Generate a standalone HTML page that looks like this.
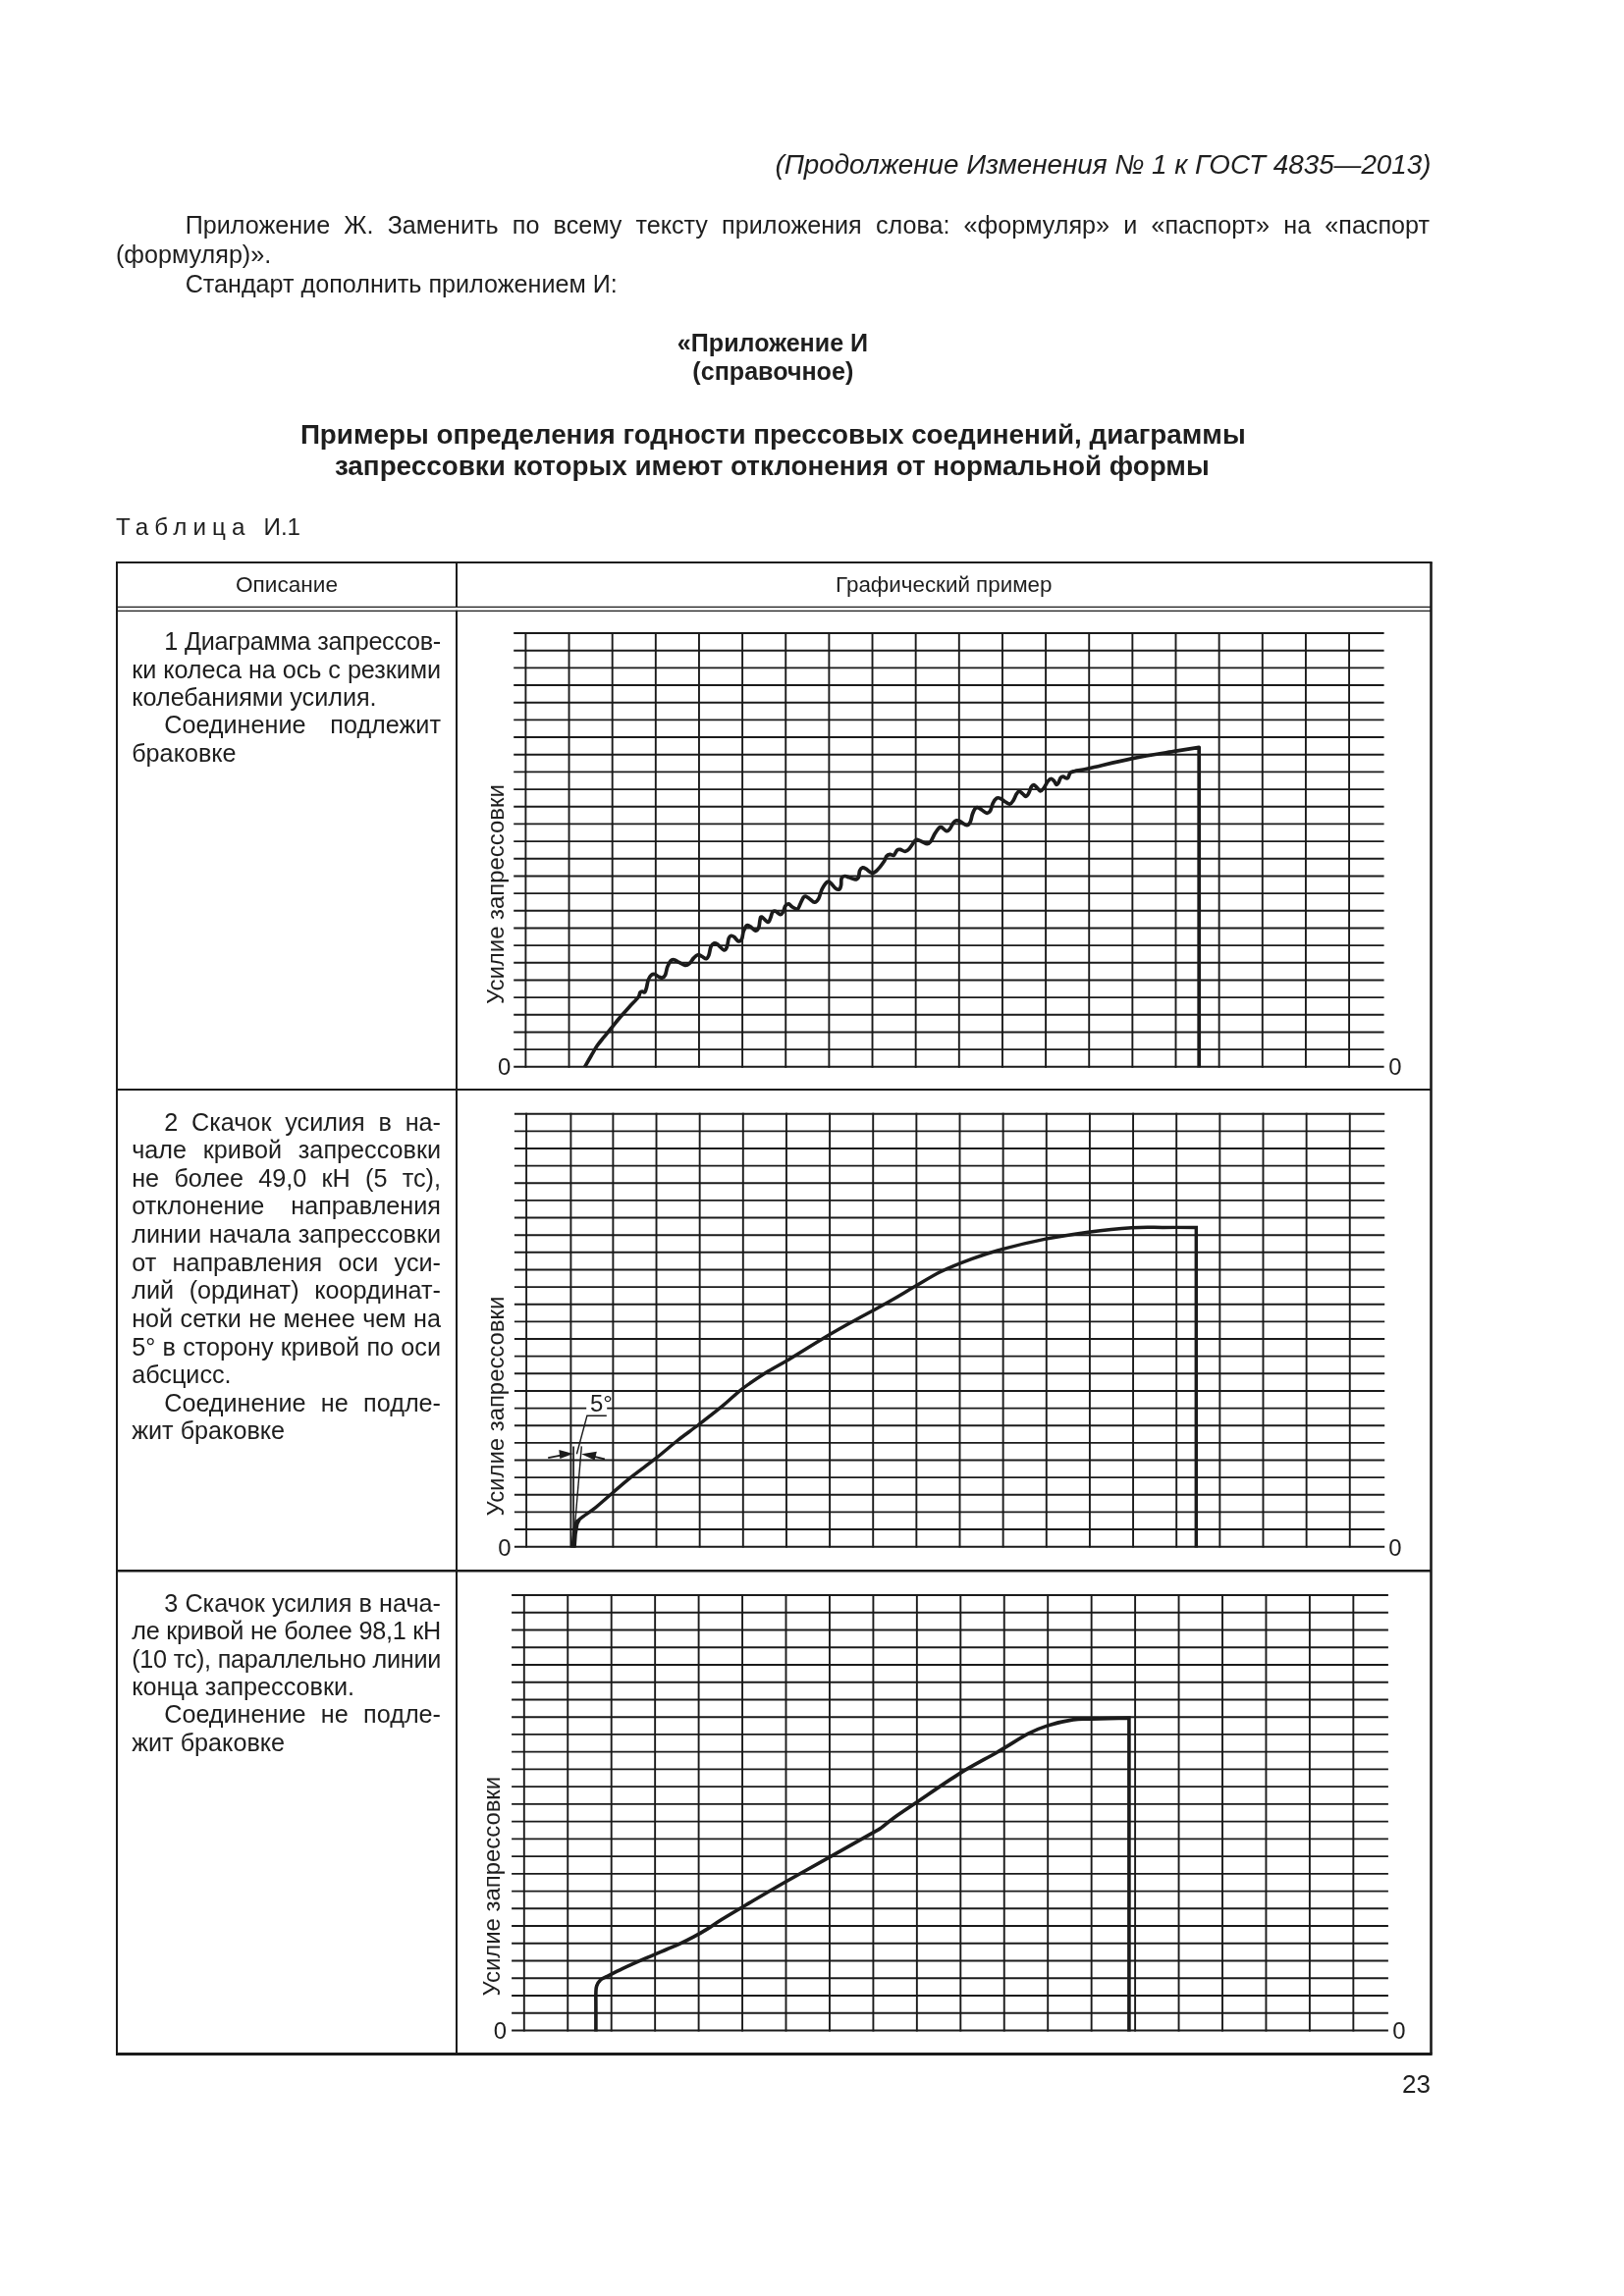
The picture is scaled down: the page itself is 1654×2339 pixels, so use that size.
<!DOCTYPE html>
<html lang="ru"><head><meta charset="utf-8"><title>ГОСТ 4835—2013 Изменение № 1</title>
<style>
html,body{margin:0;padding:0;background:#fff;}
body{width:1654px;height:2339px;position:relative;overflow:hidden;font-family:"Liberation Sans",Arial,sans-serif;color:#1e1e1e;}
.t{position:absolute;white-space:nowrap;}
#pg{position:absolute;left:0;top:0;width:1654px;height:2339px;will-change:transform;}
svg{position:absolute;left:0;top:0;}
.lab{font-family:"Liberation Sans",Arial,sans-serif;font-size:23.9px;fill:#1e1e1e;}
</style></head><body>
<div id="pg">
<svg width="1654" height="2339" viewBox="0 0 1654 2339">
<line x1="118.0" y1="573.0" x2="1458.7" y2="573.0" stroke="#1b1b1b" stroke-width="2.2"/>
<line x1="118.0" y1="2092.5" x2="1458.7" y2="2092.5" stroke="#1b1b1b" stroke-width="3"/>
<line x1="119.0" y1="573.0" x2="119.0" y2="2092.5" stroke="#1b1b1b" stroke-width="2.0"/>
<line x1="1457.5" y1="573.0" x2="1457.5" y2="2092.5" stroke="#1b1b1b" stroke-width="2.6"/>
<line x1="465.0" y1="573.0" x2="465.0" y2="619" stroke="#1b1b1b" stroke-width="2"/>
<line x1="465.0" y1="621.8" x2="465.0" y2="2092.5" stroke="#1b1b1b" stroke-width="2"/>
<line x1="119.0" y1="618.4" x2="1457.5" y2="618.4" stroke="#1b1b1b" stroke-width="1.3"/>
<line x1="119.0" y1="622.4" x2="1457.5" y2="622.4" stroke="#1b1b1b" stroke-width="1.3"/>
<line x1="119.0" y1="1110.1" x2="1457.5" y2="1110.1" stroke="#1b1b1b" stroke-width="2"/>
<line x1="119.0" y1="1600.3" x2="1457.5" y2="1600.3" stroke="#1b1b1b" stroke-width="2.4"/>
<line x1="523.20" y1="1086.80" x2="1409.60" y2="1086.80" stroke="#1b1b1b" stroke-width="1.9"/>
<line x1="523.20" y1="1069.13" x2="1409.60" y2="1069.13" stroke="#1b1b1b" stroke-width="1.9"/>
<line x1="523.20" y1="1051.46" x2="1409.60" y2="1051.46" stroke="#1b1b1b" stroke-width="1.9"/>
<line x1="523.20" y1="1033.79" x2="1409.60" y2="1033.79" stroke="#1b1b1b" stroke-width="1.9"/>
<line x1="523.20" y1="1016.12" x2="1409.60" y2="1016.12" stroke="#1b1b1b" stroke-width="1.9"/>
<line x1="523.20" y1="998.45" x2="1409.60" y2="998.45" stroke="#1b1b1b" stroke-width="1.9"/>
<line x1="523.20" y1="980.78" x2="1409.60" y2="980.78" stroke="#1b1b1b" stroke-width="1.9"/>
<line x1="523.20" y1="963.11" x2="1409.60" y2="963.11" stroke="#1b1b1b" stroke-width="1.9"/>
<line x1="523.20" y1="945.44" x2="1409.60" y2="945.44" stroke="#1b1b1b" stroke-width="1.9"/>
<line x1="523.20" y1="927.77" x2="1409.60" y2="927.77" stroke="#1b1b1b" stroke-width="1.9"/>
<line x1="523.20" y1="910.10" x2="1409.60" y2="910.10" stroke="#1b1b1b" stroke-width="1.9"/>
<line x1="523.20" y1="892.43" x2="1409.60" y2="892.43" stroke="#1b1b1b" stroke-width="1.9"/>
<line x1="523.20" y1="874.76" x2="1409.60" y2="874.76" stroke="#1b1b1b" stroke-width="1.9"/>
<line x1="523.20" y1="857.09" x2="1409.60" y2="857.09" stroke="#1b1b1b" stroke-width="1.9"/>
<line x1="523.20" y1="839.42" x2="1409.60" y2="839.42" stroke="#1b1b1b" stroke-width="1.9"/>
<line x1="523.20" y1="821.75" x2="1409.60" y2="821.75" stroke="#1b1b1b" stroke-width="1.9"/>
<line x1="523.20" y1="804.08" x2="1409.60" y2="804.08" stroke="#1b1b1b" stroke-width="1.9"/>
<line x1="523.20" y1="786.41" x2="1409.60" y2="786.41" stroke="#1b1b1b" stroke-width="1.9"/>
<line x1="523.20" y1="768.74" x2="1409.60" y2="768.74" stroke="#1b1b1b" stroke-width="1.9"/>
<line x1="523.20" y1="751.07" x2="1409.60" y2="751.07" stroke="#1b1b1b" stroke-width="1.9"/>
<line x1="523.20" y1="733.40" x2="1409.60" y2="733.40" stroke="#1b1b1b" stroke-width="1.9"/>
<line x1="523.20" y1="715.73" x2="1409.60" y2="715.73" stroke="#1b1b1b" stroke-width="1.9"/>
<line x1="523.20" y1="698.06" x2="1409.60" y2="698.06" stroke="#1b1b1b" stroke-width="1.9"/>
<line x1="523.20" y1="680.39" x2="1409.60" y2="680.39" stroke="#1b1b1b" stroke-width="1.9"/>
<line x1="523.20" y1="662.72" x2="1409.60" y2="662.72" stroke="#1b1b1b" stroke-width="1.9"/>
<line x1="523.20" y1="645.05" x2="1409.60" y2="645.05" stroke="#1b1b1b" stroke-width="1.9"/>
<line x1="535.40" y1="644.15" x2="535.40" y2="1087.70" stroke="#1b1b1b" stroke-width="1.9"/>
<line x1="579.54" y1="644.15" x2="579.54" y2="1087.70" stroke="#1b1b1b" stroke-width="1.9"/>
<line x1="623.68" y1="644.15" x2="623.68" y2="1087.70" stroke="#1b1b1b" stroke-width="1.9"/>
<line x1="667.82" y1="644.15" x2="667.82" y2="1087.70" stroke="#1b1b1b" stroke-width="1.9"/>
<line x1="711.96" y1="644.15" x2="711.96" y2="1087.70" stroke="#1b1b1b" stroke-width="1.9"/>
<line x1="756.10" y1="644.15" x2="756.10" y2="1087.70" stroke="#1b1b1b" stroke-width="1.9"/>
<line x1="800.24" y1="644.15" x2="800.24" y2="1087.70" stroke="#1b1b1b" stroke-width="1.9"/>
<line x1="844.38" y1="644.15" x2="844.38" y2="1087.70" stroke="#1b1b1b" stroke-width="1.9"/>
<line x1="888.52" y1="644.15" x2="888.52" y2="1087.70" stroke="#1b1b1b" stroke-width="1.9"/>
<line x1="932.66" y1="644.15" x2="932.66" y2="1087.70" stroke="#1b1b1b" stroke-width="1.9"/>
<line x1="976.80" y1="644.15" x2="976.80" y2="1087.70" stroke="#1b1b1b" stroke-width="1.9"/>
<line x1="1020.94" y1="644.15" x2="1020.94" y2="1087.70" stroke="#1b1b1b" stroke-width="1.9"/>
<line x1="1065.08" y1="644.15" x2="1065.08" y2="1087.70" stroke="#1b1b1b" stroke-width="1.9"/>
<line x1="1109.22" y1="644.15" x2="1109.22" y2="1087.70" stroke="#1b1b1b" stroke-width="1.9"/>
<line x1="1153.36" y1="644.15" x2="1153.36" y2="1087.70" stroke="#1b1b1b" stroke-width="1.9"/>
<line x1="1197.50" y1="644.15" x2="1197.50" y2="1087.70" stroke="#1b1b1b" stroke-width="1.9"/>
<line x1="1241.64" y1="644.15" x2="1241.64" y2="1087.70" stroke="#1b1b1b" stroke-width="1.9"/>
<line x1="1285.78" y1="644.15" x2="1285.78" y2="1087.70" stroke="#1b1b1b" stroke-width="1.9"/>
<line x1="1329.92" y1="644.15" x2="1329.92" y2="1087.70" stroke="#1b1b1b" stroke-width="1.9"/>
<line x1="1374.06" y1="644.15" x2="1374.06" y2="1087.70" stroke="#1b1b1b" stroke-width="1.9"/>
<text x="0" y="0" transform="translate(513.00,1023.00) rotate(-90)" class="lab">Усилие запрессовки</text>
<text x="507.00" y="1094.60" class="lab">0</text>
<text x="1414.20" y="1094.60" class="lab">0</text>
<line x1="523.90" y1="1575.70" x2="1410.20" y2="1575.70" stroke="#1b1b1b" stroke-width="1.9"/>
<line x1="523.90" y1="1558.06" x2="1410.20" y2="1558.06" stroke="#1b1b1b" stroke-width="1.9"/>
<line x1="523.90" y1="1540.42" x2="1410.20" y2="1540.42" stroke="#1b1b1b" stroke-width="1.9"/>
<line x1="523.90" y1="1522.78" x2="1410.20" y2="1522.78" stroke="#1b1b1b" stroke-width="1.9"/>
<line x1="523.90" y1="1505.14" x2="1410.20" y2="1505.14" stroke="#1b1b1b" stroke-width="1.9"/>
<line x1="523.90" y1="1487.50" x2="1410.20" y2="1487.50" stroke="#1b1b1b" stroke-width="1.9"/>
<line x1="523.90" y1="1469.86" x2="1410.20" y2="1469.86" stroke="#1b1b1b" stroke-width="1.9"/>
<line x1="523.90" y1="1452.22" x2="1410.20" y2="1452.22" stroke="#1b1b1b" stroke-width="1.9"/>
<line x1="523.90" y1="1434.58" x2="1410.20" y2="1434.58" stroke="#1b1b1b" stroke-width="1.9"/>
<line x1="523.90" y1="1416.94" x2="1410.20" y2="1416.94" stroke="#1b1b1b" stroke-width="1.9"/>
<line x1="523.90" y1="1399.30" x2="1410.20" y2="1399.30" stroke="#1b1b1b" stroke-width="1.9"/>
<line x1="523.90" y1="1381.66" x2="1410.20" y2="1381.66" stroke="#1b1b1b" stroke-width="1.9"/>
<line x1="523.90" y1="1364.02" x2="1410.20" y2="1364.02" stroke="#1b1b1b" stroke-width="1.9"/>
<line x1="523.90" y1="1346.38" x2="1410.20" y2="1346.38" stroke="#1b1b1b" stroke-width="1.9"/>
<line x1="523.90" y1="1328.74" x2="1410.20" y2="1328.74" stroke="#1b1b1b" stroke-width="1.9"/>
<line x1="523.90" y1="1311.10" x2="1410.20" y2="1311.10" stroke="#1b1b1b" stroke-width="1.9"/>
<line x1="523.90" y1="1293.46" x2="1410.20" y2="1293.46" stroke="#1b1b1b" stroke-width="1.9"/>
<line x1="523.90" y1="1275.82" x2="1410.20" y2="1275.82" stroke="#1b1b1b" stroke-width="1.9"/>
<line x1="523.90" y1="1258.18" x2="1410.20" y2="1258.18" stroke="#1b1b1b" stroke-width="1.9"/>
<line x1="523.90" y1="1240.54" x2="1410.20" y2="1240.54" stroke="#1b1b1b" stroke-width="1.9"/>
<line x1="523.90" y1="1222.90" x2="1410.20" y2="1222.90" stroke="#1b1b1b" stroke-width="1.9"/>
<line x1="523.90" y1="1205.26" x2="1410.20" y2="1205.26" stroke="#1b1b1b" stroke-width="1.9"/>
<line x1="523.90" y1="1187.62" x2="1410.20" y2="1187.62" stroke="#1b1b1b" stroke-width="1.9"/>
<line x1="523.90" y1="1169.98" x2="1410.20" y2="1169.98" stroke="#1b1b1b" stroke-width="1.9"/>
<line x1="523.90" y1="1152.34" x2="1410.20" y2="1152.34" stroke="#1b1b1b" stroke-width="1.9"/>
<line x1="523.90" y1="1134.70" x2="1410.20" y2="1134.70" stroke="#1b1b1b" stroke-width="1.9"/>
<line x1="536.10" y1="1133.80" x2="536.10" y2="1576.60" stroke="#1b1b1b" stroke-width="1.9"/>
<line x1="581.40" y1="1133.80" x2="581.40" y2="1576.60" stroke="#1b1b1b" stroke-width="1.9"/>
<line x1="624.38" y1="1133.80" x2="624.38" y2="1576.60" stroke="#1b1b1b" stroke-width="1.9"/>
<line x1="668.52" y1="1133.80" x2="668.52" y2="1576.60" stroke="#1b1b1b" stroke-width="1.9"/>
<line x1="712.66" y1="1133.80" x2="712.66" y2="1576.60" stroke="#1b1b1b" stroke-width="1.9"/>
<line x1="756.80" y1="1133.80" x2="756.80" y2="1576.60" stroke="#1b1b1b" stroke-width="1.9"/>
<line x1="800.94" y1="1133.80" x2="800.94" y2="1576.60" stroke="#1b1b1b" stroke-width="1.9"/>
<line x1="845.08" y1="1133.80" x2="845.08" y2="1576.60" stroke="#1b1b1b" stroke-width="1.9"/>
<line x1="889.22" y1="1133.80" x2="889.22" y2="1576.60" stroke="#1b1b1b" stroke-width="1.9"/>
<line x1="933.36" y1="1133.80" x2="933.36" y2="1576.60" stroke="#1b1b1b" stroke-width="1.9"/>
<line x1="977.50" y1="1133.80" x2="977.50" y2="1576.60" stroke="#1b1b1b" stroke-width="1.9"/>
<line x1="1021.64" y1="1133.80" x2="1021.64" y2="1576.60" stroke="#1b1b1b" stroke-width="1.9"/>
<line x1="1065.78" y1="1133.80" x2="1065.78" y2="1576.60" stroke="#1b1b1b" stroke-width="1.9"/>
<line x1="1109.92" y1="1133.80" x2="1109.92" y2="1576.60" stroke="#1b1b1b" stroke-width="1.9"/>
<line x1="1154.06" y1="1133.80" x2="1154.06" y2="1576.60" stroke="#1b1b1b" stroke-width="1.9"/>
<line x1="1198.20" y1="1133.80" x2="1198.20" y2="1576.60" stroke="#1b1b1b" stroke-width="1.9"/>
<line x1="1242.34" y1="1133.80" x2="1242.34" y2="1576.60" stroke="#1b1b1b" stroke-width="1.9"/>
<line x1="1286.48" y1="1133.80" x2="1286.48" y2="1576.60" stroke="#1b1b1b" stroke-width="1.9"/>
<line x1="1330.62" y1="1133.80" x2="1330.62" y2="1576.60" stroke="#1b1b1b" stroke-width="1.9"/>
<line x1="1374.76" y1="1133.80" x2="1374.76" y2="1576.60" stroke="#1b1b1b" stroke-width="1.9"/>
<text x="0" y="0" transform="translate(513.00,1544.40) rotate(-90)" class="lab">Усилие запрессовки</text>
<text x="507.20" y="1584.80" class="lab">0</text>
<text x="1414.20" y="1584.80" class="lab">0</text>
<line x1="521.10" y1="2068.50" x2="1413.90" y2="2068.50" stroke="#1b1b1b" stroke-width="1.9"/>
<line x1="521.10" y1="2050.76" x2="1413.90" y2="2050.76" stroke="#1b1b1b" stroke-width="1.9"/>
<line x1="521.10" y1="2033.02" x2="1413.90" y2="2033.02" stroke="#1b1b1b" stroke-width="1.9"/>
<line x1="521.10" y1="2015.28" x2="1413.90" y2="2015.28" stroke="#1b1b1b" stroke-width="1.9"/>
<line x1="521.10" y1="1997.54" x2="1413.90" y2="1997.54" stroke="#1b1b1b" stroke-width="1.9"/>
<line x1="521.10" y1="1979.80" x2="1413.90" y2="1979.80" stroke="#1b1b1b" stroke-width="1.9"/>
<line x1="521.10" y1="1962.06" x2="1413.90" y2="1962.06" stroke="#1b1b1b" stroke-width="1.9"/>
<line x1="521.10" y1="1944.32" x2="1413.90" y2="1944.32" stroke="#1b1b1b" stroke-width="1.9"/>
<line x1="521.10" y1="1926.58" x2="1413.90" y2="1926.58" stroke="#1b1b1b" stroke-width="1.9"/>
<line x1="521.10" y1="1908.84" x2="1413.90" y2="1908.84" stroke="#1b1b1b" stroke-width="1.9"/>
<line x1="521.10" y1="1891.10" x2="1413.90" y2="1891.10" stroke="#1b1b1b" stroke-width="1.9"/>
<line x1="521.10" y1="1873.36" x2="1413.90" y2="1873.36" stroke="#1b1b1b" stroke-width="1.9"/>
<line x1="521.10" y1="1855.62" x2="1413.90" y2="1855.62" stroke="#1b1b1b" stroke-width="1.9"/>
<line x1="521.10" y1="1837.88" x2="1413.90" y2="1837.88" stroke="#1b1b1b" stroke-width="1.9"/>
<line x1="521.10" y1="1820.14" x2="1413.90" y2="1820.14" stroke="#1b1b1b" stroke-width="1.9"/>
<line x1="521.10" y1="1802.40" x2="1413.90" y2="1802.40" stroke="#1b1b1b" stroke-width="1.9"/>
<line x1="521.10" y1="1784.66" x2="1413.90" y2="1784.66" stroke="#1b1b1b" stroke-width="1.9"/>
<line x1="521.10" y1="1766.92" x2="1413.90" y2="1766.92" stroke="#1b1b1b" stroke-width="1.9"/>
<line x1="521.10" y1="1749.18" x2="1413.90" y2="1749.18" stroke="#1b1b1b" stroke-width="1.9"/>
<line x1="521.10" y1="1731.44" x2="1413.90" y2="1731.44" stroke="#1b1b1b" stroke-width="1.9"/>
<line x1="521.10" y1="1713.70" x2="1413.90" y2="1713.70" stroke="#1b1b1b" stroke-width="1.9"/>
<line x1="521.10" y1="1695.96" x2="1413.90" y2="1695.96" stroke="#1b1b1b" stroke-width="1.9"/>
<line x1="521.10" y1="1678.22" x2="1413.90" y2="1678.22" stroke="#1b1b1b" stroke-width="1.9"/>
<line x1="521.10" y1="1660.48" x2="1413.90" y2="1660.48" stroke="#1b1b1b" stroke-width="1.9"/>
<line x1="521.10" y1="1642.74" x2="1413.90" y2="1642.74" stroke="#1b1b1b" stroke-width="1.9"/>
<line x1="521.10" y1="1625.00" x2="1413.90" y2="1625.00" stroke="#1b1b1b" stroke-width="1.9"/>
<line x1="533.80" y1="1624.10" x2="533.80" y2="2069.40" stroke="#1b1b1b" stroke-width="1.9"/>
<line x1="578.25" y1="1624.10" x2="578.25" y2="2069.40" stroke="#1b1b1b" stroke-width="1.9"/>
<line x1="622.70" y1="1624.10" x2="622.70" y2="2069.40" stroke="#1b1b1b" stroke-width="1.9"/>
<line x1="667.15" y1="1624.10" x2="667.15" y2="2069.40" stroke="#1b1b1b" stroke-width="1.9"/>
<line x1="711.60" y1="1624.10" x2="711.60" y2="2069.40" stroke="#1b1b1b" stroke-width="1.9"/>
<line x1="756.05" y1="1624.10" x2="756.05" y2="2069.40" stroke="#1b1b1b" stroke-width="1.9"/>
<line x1="800.50" y1="1624.10" x2="800.50" y2="2069.40" stroke="#1b1b1b" stroke-width="1.9"/>
<line x1="844.95" y1="1624.10" x2="844.95" y2="2069.40" stroke="#1b1b1b" stroke-width="1.9"/>
<line x1="889.40" y1="1624.10" x2="889.40" y2="2069.40" stroke="#1b1b1b" stroke-width="1.9"/>
<line x1="933.85" y1="1624.10" x2="933.85" y2="2069.40" stroke="#1b1b1b" stroke-width="1.9"/>
<line x1="978.30" y1="1624.10" x2="978.30" y2="2069.40" stroke="#1b1b1b" stroke-width="1.9"/>
<line x1="1022.75" y1="1624.10" x2="1022.75" y2="2069.40" stroke="#1b1b1b" stroke-width="1.9"/>
<line x1="1067.20" y1="1624.10" x2="1067.20" y2="2069.40" stroke="#1b1b1b" stroke-width="1.9"/>
<line x1="1111.65" y1="1624.10" x2="1111.65" y2="2069.40" stroke="#1b1b1b" stroke-width="1.9"/>
<line x1="1156.10" y1="1624.10" x2="1156.10" y2="2069.40" stroke="#1b1b1b" stroke-width="1.9"/>
<line x1="1200.55" y1="1624.10" x2="1200.55" y2="2069.40" stroke="#1b1b1b" stroke-width="1.9"/>
<line x1="1245.00" y1="1624.10" x2="1245.00" y2="2069.40" stroke="#1b1b1b" stroke-width="1.9"/>
<line x1="1289.45" y1="1624.10" x2="1289.45" y2="2069.40" stroke="#1b1b1b" stroke-width="1.9"/>
<line x1="1333.90" y1="1624.10" x2="1333.90" y2="2069.40" stroke="#1b1b1b" stroke-width="1.9"/>
<line x1="1378.35" y1="1624.10" x2="1378.35" y2="2069.40" stroke="#1b1b1b" stroke-width="1.9"/>
<text x="0" y="0" transform="translate(509.20,2033.60) rotate(-90)" class="lab">Усилие запрессовки</text>
<text x="502.80" y="2076.60" class="lab">0</text>
<text x="1418.20" y="2076.60" class="lab">0</text>
<path d="M595.60,1086.80 C596.67,1084.95 599.90,1079.28 602.00,1075.70 C604.10,1072.12 606.03,1068.47 608.20,1065.30 C610.37,1062.13 612.65,1059.63 615.00,1056.70 C617.35,1053.77 619.53,1051.10 622.30,1047.70 C625.07,1044.30 628.52,1039.93 631.60,1036.30 C634.68,1032.67 637.73,1029.28 640.80,1025.90 C643.87,1022.52 648.15,1018.47 650.00,1016.00 C651.85,1013.53 651.17,1012.07 651.90,1011.10 C652.63,1010.13 653.58,1010.25 654.40,1010.20 C655.22,1010.15 656.12,1011.52 656.80,1010.80 C657.48,1010.08 657.92,1008.02 658.50,1005.90 C659.08,1003.78 659.50,1000.18 660.30,998.10 C661.10,996.02 662.23,994.33 663.30,993.40 C664.37,992.47 665.42,992.22 666.70,992.50 C667.98,992.78 669.70,994.52 671.00,995.10 C672.30,995.68 673.42,996.28 674.50,996.00 C675.58,995.72 676.63,995.20 677.50,993.40 C678.37,991.60 678.77,987.65 679.70,985.20 C680.63,982.75 681.95,979.93 683.10,978.70 C684.25,977.47 685.17,977.52 686.60,977.80 C688.03,978.08 689.83,979.47 691.70,980.40 C693.57,981.33 696.07,983.18 697.80,983.40 C699.53,983.62 700.67,982.92 702.10,981.70 C703.53,980.48 704.97,977.60 706.40,976.10 C707.83,974.60 709.27,972.98 710.70,972.70 C712.13,972.42 713.57,973.75 715.00,974.40 C716.43,975.05 718.15,976.82 719.30,976.60 C720.45,976.38 721.12,975.12 721.90,973.10 C722.68,971.08 723.13,966.52 724.00,964.50 C724.87,962.48 726.02,961.43 727.10,961.00 C728.18,960.57 728.78,960.75 730.50,961.90 C732.22,963.05 735.75,967.47 737.40,967.90 C739.05,968.33 739.60,966.50 740.40,964.50 C741.20,962.50 741.48,957.77 742.20,955.90 C742.92,954.03 743.77,953.52 744.70,953.30 C745.63,953.08 746.57,953.67 747.80,954.60 C749.03,955.53 750.82,958.55 752.10,958.90 C753.38,959.25 754.65,958.35 755.50,956.70 C756.35,955.05 756.40,951.30 757.20,949.00 C758.00,946.70 759.15,943.77 760.30,942.90 C761.45,942.03 762.60,942.93 764.10,943.80 C765.60,944.67 767.85,947.95 769.30,948.10 C770.75,948.25 772.00,946.57 772.80,944.70 C773.60,942.83 773.60,938.67 774.10,936.90 C774.60,935.13 774.47,933.67 775.80,934.10 C777.13,934.53 780.62,939.32 782.10,939.50 C783.58,939.68 783.92,936.93 784.70,935.20 C785.48,933.47 785.95,930.25 786.80,929.10 C787.65,927.95 788.50,927.87 789.80,928.30 C791.10,928.73 793.30,931.57 794.60,931.70 C795.90,931.83 796.75,930.53 797.60,929.10 C798.45,927.67 798.77,924.47 799.70,923.10 C800.63,921.73 801.97,920.75 803.20,920.90 C804.43,921.05 805.60,923.13 807.10,924.00 C808.60,924.87 810.92,926.53 812.20,926.10 C813.48,925.67 813.78,923.40 814.80,921.40 C815.82,919.40 817.28,915.47 818.30,914.10 C819.32,912.73 819.75,912.85 820.90,913.20 C822.05,913.55 823.77,915.20 825.20,916.20 C826.63,917.20 828.07,919.35 829.50,919.20 C830.93,919.05 832.52,917.52 833.80,915.30 C835.08,913.08 835.77,908.70 837.20,905.90 C838.63,903.10 840.95,899.58 842.40,898.50 C843.85,897.42 844.47,898.32 845.90,899.40 C847.33,900.48 849.50,903.92 851.00,905.00 C852.50,906.08 853.97,906.47 854.90,905.90 C855.83,905.33 856.23,903.47 856.60,901.60 C856.97,899.73 856.45,896.22 857.10,894.70 C857.75,893.18 859.22,892.65 860.50,892.50 C861.78,892.35 863.07,893.23 864.80,893.80 C866.53,894.37 869.32,895.90 870.90,895.90 C872.48,895.90 873.52,895.30 874.30,893.80 C875.08,892.30 874.88,888.55 875.60,886.90 C876.32,885.25 877.52,884.18 878.60,883.90 C879.68,883.62 880.52,884.27 882.10,885.20 C883.68,886.13 886.23,889.28 888.10,889.50 C889.97,889.72 891.27,888.45 893.30,886.50 C895.33,884.55 898.70,880.18 900.30,877.80 C901.90,875.42 901.88,873.43 902.90,872.20 C903.92,870.97 905.17,870.55 906.40,870.40 C907.63,870.25 909.08,872.02 910.30,871.30 C911.52,870.58 912.63,867.10 913.70,866.10 C914.77,865.10 915.33,865.08 916.70,865.30 C918.07,865.52 920.32,867.55 921.90,867.40 C923.48,867.25 924.62,866.12 926.20,864.40 C927.78,862.68 930.10,858.62 931.40,857.10 C932.70,855.58 932.72,855.23 934.00,855.30 C935.28,855.37 937.38,856.77 939.10,857.50 C940.82,858.23 942.85,859.70 944.30,859.70 C945.75,859.70 946.50,859.23 947.80,857.50 C949.10,855.77 950.67,851.67 952.10,849.30 C953.53,846.93 955.25,844.38 956.40,843.30 C957.55,842.22 957.72,842.23 959.00,842.80 C960.28,843.37 962.67,846.48 964.10,846.70 C965.53,846.92 966.45,845.53 967.60,844.10 C968.75,842.67 969.92,839.47 971.00,838.10 C972.08,836.73 972.95,836.12 974.10,835.90 C975.25,835.68 976.12,836.00 977.90,836.80 C979.68,837.60 983.07,840.63 984.80,840.70 C986.53,840.77 987.37,839.07 988.30,837.20 C989.23,835.33 989.55,831.80 990.40,829.50 C991.25,827.20 992.32,824.48 993.40,823.40 C994.48,822.32 995.02,822.20 996.90,823.00 C998.78,823.80 1002.75,827.70 1004.70,828.20 C1006.65,828.70 1007.52,827.65 1008.60,826.00 C1009.68,824.35 1010.12,820.45 1011.20,818.30 C1012.28,816.15 1013.80,813.90 1015.10,813.10 C1016.40,812.30 1017.50,812.85 1019.00,813.50 C1020.50,814.15 1022.53,816.07 1024.10,817.00 C1025.67,817.93 1027.10,819.32 1028.40,819.10 C1029.70,818.88 1030.75,817.42 1031.90,815.70 C1033.05,813.98 1034.30,810.38 1035.30,808.80 C1036.30,807.22 1036.88,806.27 1037.90,806.20 C1038.92,806.13 1040.25,807.53 1041.40,808.40 C1042.55,809.27 1043.73,811.48 1044.80,811.40 C1045.87,811.32 1046.87,809.55 1047.80,807.90 C1048.73,806.25 1049.53,802.87 1050.40,801.50 C1051.27,800.13 1052.07,799.57 1053.00,799.70 C1053.93,799.83 1054.92,801.28 1056.00,802.30 C1057.08,803.32 1058.35,805.65 1059.50,805.80 C1060.65,805.95 1061.62,804.85 1062.90,803.20 C1064.18,801.55 1065.90,797.55 1067.20,795.90 C1068.50,794.25 1069.62,793.30 1070.70,793.30 C1071.78,793.30 1072.83,794.90 1073.70,795.90 C1074.57,796.90 1075.18,799.02 1075.90,799.30 C1076.62,799.58 1077.28,798.75 1078.00,797.60 C1078.72,796.45 1079.40,793.48 1080.20,792.40 C1081.00,791.32 1081.87,791.03 1082.80,791.10 C1083.73,791.17 1084.95,792.65 1085.80,792.80 C1086.65,792.95 1087.18,792.93 1087.90,792.00 C1088.62,791.07 1088.95,788.28 1090.10,787.20 C1091.25,786.12 1091.63,786.23 1094.80,785.50 C1097.97,784.77 1099.32,784.95 1109.10,782.80 C1118.88,780.65 1138.77,775.55 1153.50,772.60 C1168.23,769.65 1186.22,766.98 1197.50,765.10 C1208.78,763.22 1217.25,761.93 1221.20,761.30 L1221.2,1087.6" fill="none" stroke="#1b1b1b" stroke-width="3.7" stroke-linejoin="round"/>
<path d="M584.30,1576.50 C584.33,1574.08 584.22,1565.75 584.50,1562.00 C584.78,1558.25 585.25,1556.17 586.00,1554.00 C586.75,1551.83 587.67,1550.53 589.00,1549.00 C590.33,1547.47 591.03,1547.03 594.00,1544.80 C596.97,1542.57 601.70,1539.70 606.80,1535.60 C611.90,1531.50 618.52,1525.40 624.60,1520.20 C630.68,1515.00 636.08,1510.15 643.30,1504.40 C650.52,1498.65 660.12,1491.85 667.90,1485.70 C675.68,1479.55 682.75,1473.20 690.00,1467.50 C697.25,1461.80 703.83,1457.30 711.40,1451.50 C718.97,1445.70 728.02,1438.77 735.40,1432.70 C742.78,1426.63 748.30,1420.80 755.70,1415.10 C763.10,1409.40 771.78,1403.57 779.80,1398.50 C787.82,1393.43 793.77,1390.70 803.80,1384.70 C813.83,1378.70 829.37,1368.83 840.00,1362.50 C850.63,1356.17 859.38,1351.30 867.60,1346.70 C875.82,1342.10 882.40,1338.68 889.30,1334.90 C896.20,1331.12 901.70,1328.18 909.00,1324.00 C916.30,1319.82 924.90,1314.55 933.10,1309.80 C941.30,1305.05 948.72,1300.07 958.20,1295.50 C967.68,1290.93 979.77,1286.17 990.00,1282.40 C1000.23,1278.63 1007.28,1276.23 1019.60,1272.90 C1031.92,1269.57 1049.13,1265.35 1063.90,1262.40 C1078.67,1259.45 1093.42,1257.15 1108.20,1255.20 C1122.98,1253.25 1139.80,1251.50 1152.60,1250.70 C1165.40,1249.90 1174.05,1250.45 1185.00,1250.40 C1195.95,1250.35 1212.75,1250.40 1218.30,1250.40 L1218.3,1576.5" fill="none" stroke="#1b1b1b" stroke-width="3.45" stroke-linejoin="miter"/>
<path d="M606.90,2069.40 C606.90,2065.33 606.90,2051.57 606.90,2045.00 C606.90,2038.43 606.77,2033.65 606.90,2030.00 C607.03,2026.35 606.92,2025.27 607.70,2023.10 C608.48,2020.93 609.93,2018.57 611.60,2017.00 C613.27,2015.43 613.92,2015.63 617.70,2013.70 C621.48,2011.77 627.83,2008.45 634.30,2005.40 C640.77,2002.35 649.10,1998.63 656.50,1995.40 C663.90,1992.17 672.78,1988.50 678.70,1986.00 C684.62,1983.50 687.38,1982.53 692.00,1980.40 C696.62,1978.27 701.60,1975.78 706.40,1973.20 C711.20,1970.62 716.18,1967.77 720.80,1964.90 C725.42,1962.03 728.18,1959.70 734.10,1956.00 C740.02,1952.30 745.35,1949.15 756.30,1942.70 C767.25,1936.25 784.87,1925.85 799.80,1917.30 C814.73,1908.75 831.13,1899.72 845.90,1891.40 C860.67,1883.08 879.77,1872.32 888.40,1867.40 C897.03,1862.48 894.00,1864.52 897.70,1861.90 C901.40,1859.28 904.60,1856.02 910.60,1851.70 C916.60,1847.38 922.55,1843.52 933.70,1836.00 C944.85,1828.48 963.75,1815.15 977.50,1806.60 C991.25,1798.05 1004.58,1791.43 1016.20,1784.70 C1027.82,1777.97 1038.83,1770.63 1047.20,1766.20 C1055.57,1761.77 1058.77,1760.48 1066.40,1758.10 C1074.03,1755.72 1085.48,1753.07 1093.00,1751.90 C1100.52,1750.73 1102.02,1751.38 1111.50,1751.10 C1120.98,1750.82 1143.50,1750.35 1149.90,1750.20 L1149.9,2069.4" fill="none" stroke="#1b1b1b" stroke-width="3.6" stroke-linejoin="miter"/>
<line x1="584.1" y1="1473.4" x2="584.1" y2="1560" stroke="#1b1b1b" stroke-width="1.7"/>
<polygon points="581.3,1576.5 586.8,1576.5 587.8,1563 589.5,1553 591.5,1549 586.5,1548 584.5,1556 582.8,1565" fill="#1b1b1b"/>
<line x1="592.3" y1="1473.4" x2="585.6" y2="1553" stroke="#1b1b1b" stroke-width="1.4"/>
<polyline points="587.4,1481.2 597.9,1442.2 617.8,1442.2" fill="none" stroke="#1b1b1b" stroke-width="1.4"/>
<line x1="558.2" y1="1485.2" x2="575" y2="1481.8" stroke="#1b1b1b" stroke-width="1.7"/>
<polygon points="583.8,1481.0 569.3,1476.9 570.3,1485.9" fill="#1b1b1b"/>
<line x1="615.9" y1="1486.4" x2="600" y2="1482.6" stroke="#1b1b1b" stroke-width="1.7"/>
<polygon points="592.2,1481.2 607.8,1478.7 605.6,1487.4" fill="#1b1b1b"/>
<rect x="597.2" y="1433" width="21" height="4" fill="#fff"/>
<text x="601.0" y="1438.0" class="lab">5°</text>
</svg>
<div class="t" style="left:400.00px;top:150.69px;font-size:27.8px;line-height:33.36px;width:1057.50px;text-align:right;font-style:italic;">(Продолжение Изменения № 1 к ГОСТ 4835—2013)</div>
<div class="t" style="left:188.70px;top:214.00px;font-size:25.15px;line-height:30.18px;width:1267.30px;text-align:justify;text-align-last:justify;">Приложение Ж. Заменить по всему тексту приложения слова: «формуляр» и «паспорт» на «паспорт</div>
<div class="t" style="left:118.00px;top:243.90px;font-size:25.15px;line-height:30.18px;">(формуляр)».</div>
<div class="t" style="left:188.70px;top:274.00px;font-size:25.15px;line-height:30.18px;">Стандарт дополнить приложением И:</div>
<div class="t" style="left:187.00px;top:334.04px;font-size:25.1px;line-height:30.12px;width:1200.00px;text-align:center;font-weight:bold;">«Приложение И</div>
<div class="t" style="left:187.30px;top:363.14px;font-size:25.1px;line-height:30.12px;width:1200.00px;text-align:center;font-weight:bold;">(справочное)</div>
<div class="t" style="left:187.30px;top:425.57px;font-size:27.82px;line-height:33.38px;width:1200.00px;text-align:center;font-weight:bold;">Примеры определения годности прессовых соединений, диаграммы</div>
<div class="t" style="left:186.30px;top:458.47px;font-size:27.82px;line-height:33.38px;width:1200.00px;text-align:center;font-weight:bold;">запрессовки которых имеют отклонения от нормальной формы</div>
<div class="t" style="left:118.00px;top:521.59px;font-size:24.2px;line-height:29.04px;letter-spacing:6.1px;">Таблица</div>
<div class="t" style="left:268.50px;top:521.59px;font-size:24.2px;line-height:29.04px;">И.1</div>
<div class="t" style="left:-308.00px;top:582.41px;font-size:22.6px;line-height:27.12px;width:1200.00px;text-align:center;">Описание</div>
<div class="t" style="left:361.30px;top:582.60px;font-size:22.4px;line-height:26.88px;width:1200.00px;text-align:center;">Графический пример</div>
<div class="t" style="left:167.20px;top:638.35px;font-size:25.2px;line-height:30.24px;width:281.80px;text-align:justify;text-align-last:justify;letter-spacing:-0.280px;">1 Диаграмма запрессов-</div>
<div class="t" style="left:134.20px;top:666.65px;font-size:25.2px;line-height:30.24px;width:314.80px;text-align:justify;text-align-last:justify;letter-spacing:-0.061px;">ки колеса на ось с резкими</div>
<div class="t" style="left:134.20px;top:694.95px;font-size:25.2px;line-height:30.24px;width:314.80px;">колебаниями усилия.</div>
<div class="t" style="left:167.20px;top:723.25px;font-size:25.2px;line-height:30.24px;width:281.80px;text-align:justify;text-align-last:justify;">Соединение подлежит</div>
<div class="t" style="left:134.20px;top:751.55px;font-size:25.2px;line-height:30.24px;width:314.80px;">браковке</div>
<div class="t" style="left:167.20px;top:1127.55px;font-size:25.2px;line-height:30.24px;width:281.80px;text-align:justify;text-align-last:justify;">2 Скачок усилия в на-</div>
<div class="t" style="left:134.20px;top:1156.18px;font-size:25.2px;line-height:30.24px;width:314.80px;text-align:justify;text-align-last:justify;">чале кривой запрессовки</div>
<div class="t" style="left:134.20px;top:1184.81px;font-size:25.2px;line-height:30.24px;width:314.80px;text-align:justify;text-align-last:justify;">не более 49,0 кН (5 тс),</div>
<div class="t" style="left:134.20px;top:1213.44px;font-size:25.2px;line-height:30.24px;width:314.80px;text-align:justify;text-align-last:justify;">отклонение направления</div>
<div class="t" style="left:134.20px;top:1242.07px;font-size:25.2px;line-height:30.24px;width:314.80px;text-align:justify;text-align-last:justify;">линии начала запрессовки</div>
<div class="t" style="left:134.20px;top:1270.70px;font-size:25.2px;line-height:30.24px;width:314.80px;text-align:justify;text-align-last:justify;">от направления оси уси-</div>
<div class="t" style="left:134.20px;top:1299.33px;font-size:25.2px;line-height:30.24px;width:314.80px;text-align:justify;text-align-last:justify;">лий (ординат) координат-</div>
<div class="t" style="left:134.20px;top:1327.96px;font-size:25.2px;line-height:30.24px;width:314.80px;text-align:justify;text-align-last:justify;">ной сетки не менее чем на</div>
<div class="t" style="left:134.20px;top:1356.59px;font-size:25.2px;line-height:30.24px;width:314.80px;text-align:justify;text-align-last:justify;">5° в сторону кривой по оси</div>
<div class="t" style="left:134.20px;top:1385.22px;font-size:25.2px;line-height:30.24px;width:314.80px;">абсцисс.</div>
<div class="t" style="left:167.20px;top:1413.85px;font-size:25.2px;line-height:30.24px;width:281.80px;text-align:justify;text-align-last:justify;">Соединение не подле-</div>
<div class="t" style="left:134.20px;top:1442.48px;font-size:25.2px;line-height:30.24px;width:314.80px;">жит браковке</div>
<div class="t" style="left:167.20px;top:1617.55px;font-size:25.2px;line-height:30.24px;width:281.80px;text-align:justify;text-align-last:justify;">3 Скачок усилия в нача-</div>
<div class="t" style="left:134.20px;top:1646.03px;font-size:25.2px;line-height:30.24px;width:314.80px;text-align:justify;text-align-last:justify;letter-spacing:-0.247px;">ле кривой не более 98,1 кН</div>
<div class="t" style="left:134.20px;top:1674.51px;font-size:25.2px;line-height:30.24px;width:314.80px;text-align:justify;text-align-last:justify;letter-spacing:-0.274px;">(10 тс), параллельно линии</div>
<div class="t" style="left:134.20px;top:1702.99px;font-size:25.2px;line-height:30.24px;width:314.80px;">конца запрессовки.</div>
<div class="t" style="left:167.20px;top:1731.47px;font-size:25.2px;line-height:30.24px;width:281.80px;text-align:justify;text-align-last:justify;">Соединение не подле-</div>
<div class="t" style="left:134.20px;top:1759.95px;font-size:25.2px;line-height:30.24px;width:314.80px;">жит браковке</div>
<div class="t" style="left:1300.00px;top:2108.19px;font-size:26.0px;line-height:31.2px;width:157.00px;text-align:right;">23</div>
</div>
</body></html>
